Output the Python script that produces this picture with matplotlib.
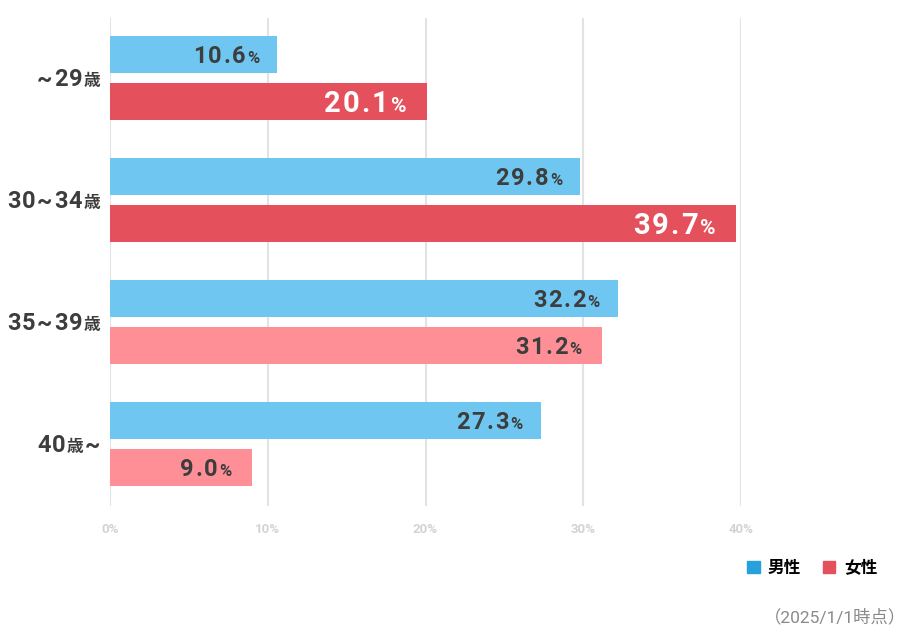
import re
import matplotlib
matplotlib.use('Agg')
import matplotlib.pyplot as plt
from matplotlib.patches import Patch

plt.rcParams['font.family'] = ['Roboto', 'Noto Sans CJK JP', 'DejaVu Sans']

# data
age_groups = ['~29歳', '30~34歳', '35~39歳', '40歳~']
male = [10.6, 29.8, 32.2, 27.3]
female = [20.1, 39.7, 31.2, 9.0]
female_highlight = [True, True, False, False]
x_ticks = [0, 10, 20, 30, 40]
legend_labels = ['男性', '女性']
note = '（2025/1/1時点）'

c_male = '#6fc6f0'
c_female = '#e4505b'
c_female_light = '#ff8f97'
c_text = '#3d3d3d'


def draw_parts(ax, x, y, parts, dx, dy, gap=0.6):
    # parts drawn right to left, right edge at x + dx (points)
    renderer = ax.figure.canvas.get_renderer()
    off = dx
    for s, size, color in reversed(parts):
        t = ax.annotate(s, xy=(x, y), xycoords='data', xytext=(off, dy),
                        textcoords='offset points', ha='right', va='baseline',
                        fontsize=size, color=color, fontweight='bold',
                        annotation_clip=False)
        w = t.get_window_extent(renderer).width * 72 / ax.figure.dpi
        off -= w + gap


def spaced(text, size, color):
    # one part per character, to get wider letter spacing
    return [(ch, size, color) for ch in text]


fig = plt.figure(figsize=(9.13, 6.34), dpi=100)
ax = fig.add_axes([110 / 913, 1 - 506 / 634, (741 - 110) / 913, (506 - 18) / 634])

step = 0.385
h = 0.303
pos = list(range(len(age_groups)))
ax.barh([p for p in pos], male, height=h, color=c_male, zorder=2)
ax.barh([p + step for p in pos], female, height=h,
        color=[c_female if f else c_female_light for f in female_highlight], zorder=2)

ax.set_xlim(0, 40)
ax.set_ylim(3.70, -0.299)
ax.set_xticks(x_ticks)
ax.set_xticklabels([f'{v}%' for v in x_ticks])
ax.set_yticks([])
ax.grid(axis='x', color='#e3e3e3', lw=1.5, zorder=0)
ax.set_axisbelow(True)
for s in ax.spines.values():
    s.set_visible(False)
ax.tick_params(axis='x', length=0, pad=12, labelsize=9.5, labelcolor='#d3d3d3')
for lbl in ax.get_xticklabels():
    lbl.set_fontweight('bold')

fig.canvas.draw()

# value labels
for i in pos:
    size, psize = 17, 12
    draw_parts(ax, male[i], i, spaced(f'{male[i]:.1f}', size, c_text) + [('%', psize, c_text)],
               -13, -0.711 * size / 2, gap=1.2)
    if female_highlight[i]:
        size, psize, col = 21, 15, 'white'
    else:
        size, psize, col = 17, 12, c_text
    draw_parts(ax, female[i], i + step,
               spaced(f'{female[i]:.1f}', size, col) + [('%', psize, col)],
               -15, -0.711 * size / 2, gap=1.5 if female_highlight[i] else 1.2)

# category labels
for i, name in enumerate(age_groups):
    parts = []
    for p in re.split('(歳)', name):
        if p == '歳':
            parts.append((p, 12, c_text))
        elif p:
            parts += spaced(p, 17, c_text)
    draw_parts(ax, 0, i + step / 2, parts, -7, -0.711 * 17 / 2, gap=1.0)

handles = [Patch(color='#28a0dc'), Patch(color=c_female)]
leg = fig.legend(handles, legend_labels, ncol=2, loc='center right',
                 bbox_to_anchor=(892 / 913, 1 - 568 / 634), frameon=False,
                 handlelength=0.75, handleheight=0.75, handletextpad=0.5,
                 columnspacing=1.3, prop={'size': 12, 'weight': 'bold'})

fig.text(906 / 913, 1 - 617 / 634, note, ha='right', va='center', color='#8a8a8a', fontsize=12.5)

fig.savefig('out.png', dpi=100)
